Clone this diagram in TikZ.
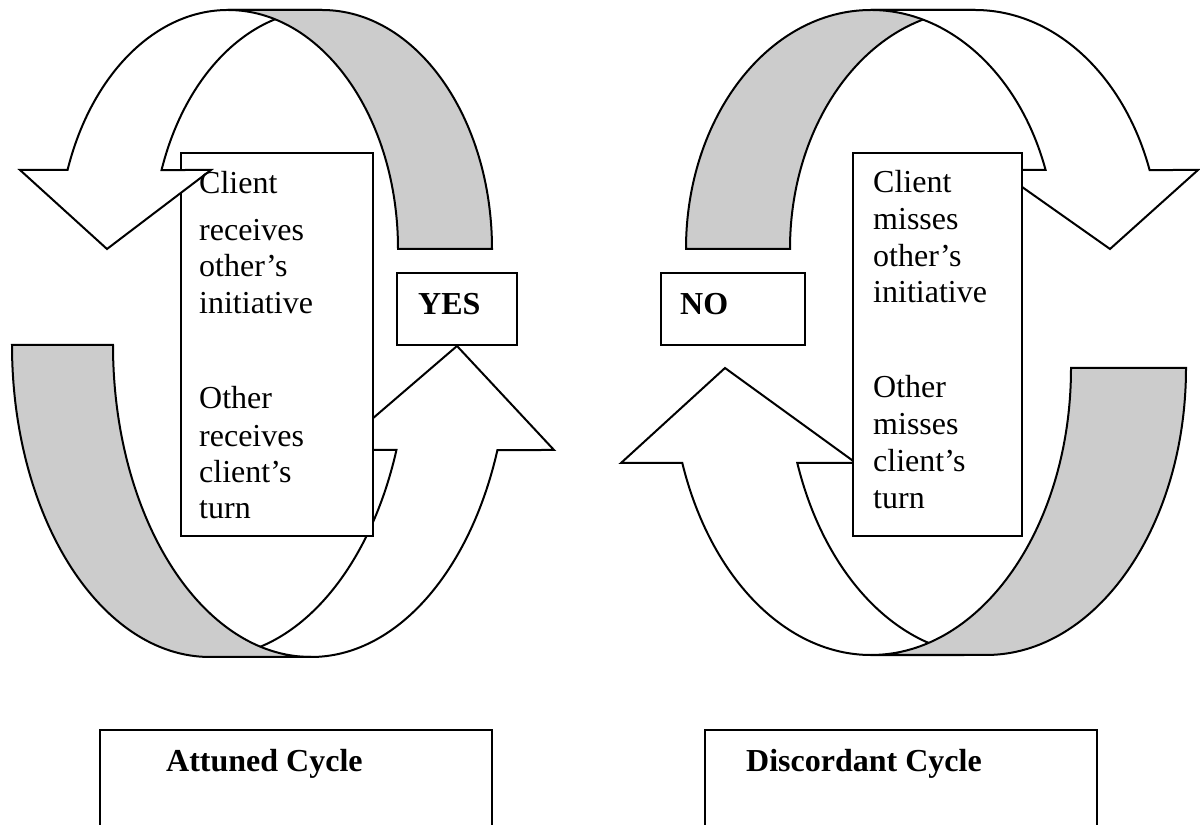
\documentclass[tikz,border=0pt]{standalone}
\usepackage{fontspec}
\setmainfont{Liberation Serif}
\definecolor{bandgray}{RGB}{204,204,204}
\begin{document}
\begin{tikzpicture}[x=1pt,y=1pt,
  outline/.style={draw=black, line width=2pt, line join=miter},
  front/.style={outline, fill=white},
  back/.style={outline, fill=bandgray},
  card/.style={draw=black, line width=2pt, fill=white, inner sep=0pt, anchor=south west},
  body/.style={font=\fontsize{32}{36}\selectfont, anchor=base west, inner sep=0pt},
  tag/.style={font=\bfseries\fontsize{32}{36}\selectfont, anchor=base west, inner sep=0pt}]
\useasboundingbox (0,0) rectangle (1200,825);
\clip (0,0) rectangle (1200,825);

% ---------- attuned cycle ----------
% lower arrow, turning up towards YES
\path[front] (210,168) -- (311,168)
  arc[start angle=-90, end angle=-19.67, x radius=198, y radius=312]
  -- (554,375) -- (457,479) -- (336,375) -- (396.45,375)
  arc[start angle=-19.67, end angle=-90, x radius=198, y radius=312] -- cycle;
\path[back] (12,480)
  arc[start angle=180, end angle=270, x radius=198, y radius=312] -- (311,168)
  arc[start angle=270, end angle=180, x radius=198, y radius=312] -- cycle;

\node[card, minimum width=192pt, minimum height=383pt] (leftcard) at (180,288) {};

% upper arrow, turning down to the left
\path[front] (107,576) -- (20,655) -- (67.55,655)
  arc[start angle=160.7, end angle=90, x radius=170, y radius=239] -- (322,815)
  arc[start angle=90, end angle=160.7, x radius=170, y radius=239] -- (211,655) -- cycle;
\path[back] (322,815)
  arc[start angle=90, end angle=0, x radius=170, y radius=239] -- (398,576)
  arc[start angle=0, end angle=90, x radius=170, y radius=239] -- cycle;

\node[card, minimum width=120pt, minimum height=72pt] (yesbox) at (396,479) {};
\node[tag] (yes) at (418,510) {YES};

\node[body] (l1) at (199,631) {Client};
\node[body] (l2) at (199,584) {receives};
\node[body] (l3) at (199,548) {other’s};
\node[body] (l4) at (199,511) {initiative};
\node[body] (l5) at (199,416) {Other};
\node[body] (l6) at (199,378) {receives};
\node[body] (l7) at (199,342) {client’s};
\node[body] (l8) at (199,306) {turn};

% ---------- discordant cycle ----------
% lower arrow, turning up on the left
\path[front] (725,457) -- (621,362) -- (682.3,362)
  arc[start angle=199.33, end angle=270, x radius=200, y radius=287] -- (986,170)
  arc[start angle=270, end angle=199.33, x radius=200, y radius=287] -- (856,362) -- cycle;
\path[back] (1186,457)
  arc[start angle=0, end angle=-90, x radius=200, y radius=287] -- (871,170)
  arc[start angle=-90, end angle=0, x radius=200, y radius=287] -- cycle;

% upper arrow, turning down to the right
\path[back] (871,815)
  arc[start angle=90, end angle=180, x radius=185, y radius=239] -- (790,576)
  arc[start angle=180, end angle=90, x radius=185, y radius=239] -- cycle;
\path[front] (1110,576) -- (998,655) -- (1045.6,655)
  arc[start angle=19.3, end angle=90, x radius=185, y radius=239] -- (975,815)
  arc[start angle=90, end angle=19.3, x radius=185, y radius=239] -- (1198,655) -- cycle;

\node[card, minimum width=169pt, minimum height=383pt] (rightcard) at (852,288) {};

\node[card, minimum width=144pt, minimum height=72pt] (nobox) at (660,479) {};
\node[tag] (no) at (680,510) {NO};

\node[body] (r1) at (873,632) {Client};
\node[body] (r2) at (873,595) {misses};
\node[body] (r3) at (873,558) {other’s};
\node[body] (r4) at (873,522) {initiative};
\node[body] (r5) at (873,427) {Other};
\node[body] (r6) at (873,390) {misses};
\node[body] (r7) at (873,353) {client’s};
\node[body] (r8) at (873,316) {turn};

% ---------- captions ----------
\draw[outline] (100,-5) -- (100,95) -- (492,95) -- (492,-5);
\node[tag] (attuned) at (166,53) {Attuned Cycle};
\draw[outline] (705,-5) -- (705,95) -- (1097,95) -- (1097,-5);
\node[tag] (discordant) at (746,53) {Discordant Cycle};
\end{tikzpicture}
\end{document}
